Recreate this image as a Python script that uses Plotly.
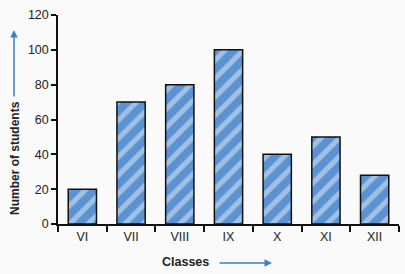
import plotly.graph_objects as go

classes = ["VI", "VII", "VIII", "IX", "X", "XI", "XII"]
students = [20, 70, 80, 100, 40, 50, 28]
y_ticks = [0, 20, 40, 60, 80, 100, 120]

W, H = 405, 274
ML, MR, MT, MB = 58, 6, 15, 50
pw, ph = W - ML - MR, H - MT - MB

def px_x(p):
    return (p - ML) / pw

def px_y(p):
    return (MT + ph - p) / ph

fig = go.Figure(go.Bar(
    x=classes, y=students,
    marker=dict(
        color="#5f97d6",
        line=dict(color="#111111", width=1.5),
        pattern=dict(shape="/", bgcolor="#5a92d2", fgcolor="#e6eef8",
                     size=13, solidity=0.4, fillmode="overlay"),
    ),
    width=0.58,
))

fig.update_layout(
    width=W, height=H,
    margin=dict(l=ML, r=MR, t=MT, b=MB),
    paper_bgcolor="#fafafa", plot_bgcolor="#fafafa",
    showlegend=False,
    font=dict(family="Liberation Sans, Arial, sans-serif", size=12, color="#222222"),
    xaxis=dict(
        range=[-0.5, 6.5], showline=True, linecolor="#111111", linewidth=1.5,
        ticks="outside", tickson="boundaries", ticklen=6, tickcolor="#111111",
        tickwidth=1.5, showgrid=False, tickfont=dict(size=12.5), fixedrange=True,
    ),
    yaxis=dict(
        range=[0, 120], tickvals=y_ticks, showline=True, linecolor="#111111",
        linewidth=1.5, ticks="outside", ticklen=5, tickcolor="#111111",
        tickwidth=1.5, showgrid=False, zeroline=False, tickfont=dict(size=12.5),
        fixedrange=True,
    ),
    annotations=[
        dict(text="<b>Number of students</b>", xref="paper", yref="paper",
             x=px_x(15), y=px_y(158), textangle=-90, showarrow=False,
             font=dict(size=12), xanchor="center", yanchor="middle"),
        dict(text="", xref="paper", yref="paper", x=px_x(14), y=px_y(30),
             ax=0, ay=68, showarrow=True, arrowhead=2, arrowsize=1,
             arrowwidth=1.5, arrowcolor="#3f7fc8"),
        dict(text="<b>Classes</b>", xref="paper", yref="paper",
             x=px_x(185), y=px_y(262), showarrow=False, font=dict(size=12.5),
             xanchor="center", yanchor="middle"),
        dict(text="", xref="paper", yref="paper", x=px_x(272), y=px_y(263),
             ax=-54, ay=0, showarrow=True, arrowhead=2, arrowsize=1,
             arrowwidth=1.5, arrowcolor="#3f7fc8"),
    ],
)

fig.write_html("out.html")
